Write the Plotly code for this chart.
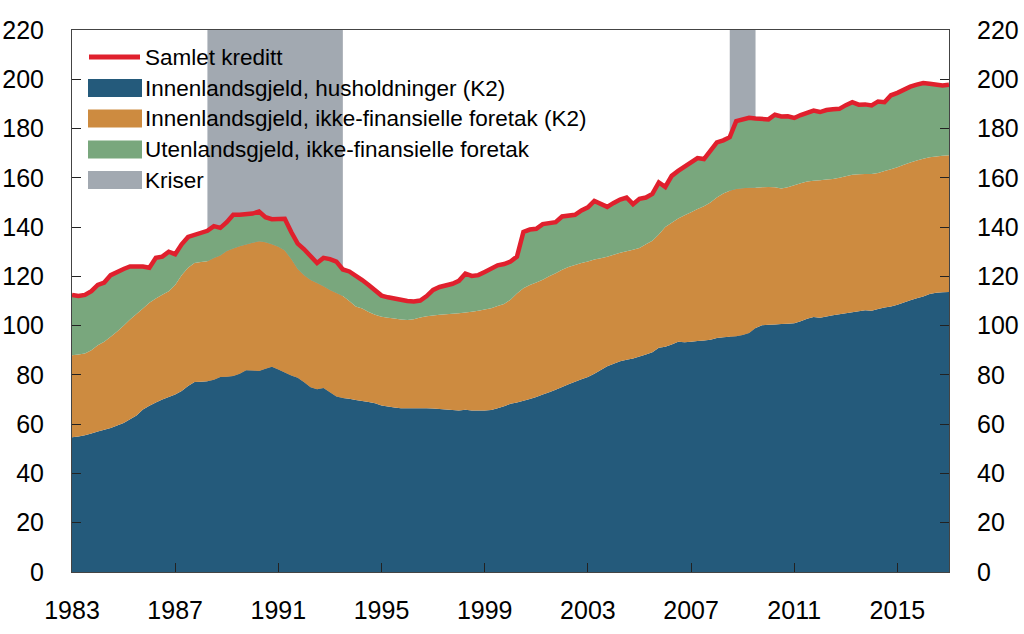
import plotly.graph_objects as go

# ---------------- data (quarterly, 1983Q1 .. 2017Q1), percent of GDP Mainland-Norway ----------------
start_year = 1983
n_quarters = 137
periods = [start_year + 0.25 * i for i in range(n_quarters)]

# Samlet kreditt (total level, red line)
samlet_kreditt = [
    112.5, 112.0, 112.5, 114.0, 116.5, 117.5, 120.5, 122.0,   # 1983-1984
    123.0, 124.0, 124.0, 124.0, 123.5, 127.5, 128.0, 130.0,   # 1985-1986
    129.0, 133.0, 136.0, 136.8, 137.3, 138.5, 140.4, 139.7,   # 1987-1988
    142.0, 145.0, 145.0, 145.2, 145.5, 146.3, 144.0, 143.2,   # 1989-1990
    143.3, 143.4, 138.0, 133.3, 131.0, 128.5, 125.4, 127.5,   # 1991-1992
    127.0, 126.0, 122.8, 122.0, 120.5, 118.5, 116.5, 114.5,   # 1993-1994
    112.2, 111.5, 110.9, 110.5, 110.0, 109.8, 110.2, 112.0,   # 1995-1996
    114.5, 115.7, 116.2, 117.0, 118.2, 121.1, 120.2, 120.5,   # 1997-1998
    121.8, 123.0, 124.5, 125.0, 126.0, 128.0, 138.0, 139.0,   # 1999-2000
    139.3, 141.2, 141.5, 142.0, 144.3, 144.7, 145.0, 146.8,   # 2001-2002
    148.0, 150.6, 149.5, 148.2, 149.8, 151.2, 152.0, 149.3,   # 2003-2004
    151.5, 152.0, 153.5, 158.1, 156.3, 160.8, 162.8, 164.5,   # 2005-2006
    166.0, 168.0, 167.6, 171.0, 174.4, 175.2, 176.5, 183.0,   # 2007-2008
    183.7, 184.4, 184.1, 183.9, 183.7, 185.6, 184.9, 185.0,   # 2009-2010
    184.3, 185.5, 186.5, 187.3, 186.7, 187.5, 187.8, 188.0,   # 2011-2012
    189.5, 190.7, 189.7, 189.8, 189.4, 191.0, 190.7, 193.5,   # 2013-2014
    194.5, 196.0, 197.0, 197.8, 198.5, 198.2, 197.8, 197.5,   # 2015-2016
    197.8,                                                    # 2017
]

# Innenlandsgjeld i alt (K2) = husholdninger + ikke-finansielle foretak (level of orange top)
innenlandsgjeld_k2 = [
    88.0, 88.3, 88.7, 90.0, 92.0, 93.5, 95.5, 97.6,
    100.0, 102.5, 104.7, 107.0, 109.3, 111.0, 112.5, 114.0,
    116.5, 120.5, 123.5, 125.4, 125.8, 126.1, 127.5, 128.5,
    130.3, 131.3, 132.2, 132.9, 133.6, 134.3, 133.8, 133.0,
    132.0, 130.5, 127.0, 123.0, 120.5, 118.5, 117.3, 116.0,
    114.5, 113.2, 112.0, 110.0, 107.8, 107.0, 105.5, 104.4,
    103.6, 103.2, 102.9, 102.5, 102.3, 102.6, 103.3, 103.8,
    104.1, 104.4, 104.6, 104.8, 105.0, 105.3, 105.6, 106.0,
    106.5, 107.1, 108.0, 108.8, 110.5, 113.0, 115.2, 116.5,
    117.5, 118.6, 120.0, 121.3, 122.7, 123.8, 124.6, 125.4,
    126.0, 126.8, 127.4, 128.0, 128.8, 129.6, 130.2, 130.8,
    131.5, 133.0, 134.5, 137.0, 140.0, 141.8, 143.5, 144.8,
    146.0, 147.3, 148.5, 150.0, 152.0, 153.6, 154.8, 155.5,
    155.8, 156.0, 156.0, 156.2, 156.3, 156.2, 155.7, 156.2,
    157.0, 157.8, 158.5, 158.8, 159.0, 159.3, 159.5, 160.0,
    160.6, 161.2, 161.4, 161.5, 161.5, 162.0, 162.8, 163.5,
    164.3, 165.3, 166.2, 167.0, 167.7, 168.3, 168.7, 169.0,
    169.2,
]

# Innenlandsgjeld, husholdninger (K2)
husholdninger = [
    54.7, 55.0, 55.5, 56.2, 57.0, 57.7, 58.5, 59.5,
    60.5, 62.0, 63.5, 66.0, 67.5, 68.8, 70.0, 71.0,
    72.0, 73.5, 75.5, 77.1, 77.2, 77.4, 78.0, 79.2,
    79.3, 79.6, 80.5, 81.9, 81.8, 81.6, 82.5, 83.3,
    82.2, 81.0, 79.8, 78.8, 77.0, 75.0, 74.2, 74.7,
    73.0, 71.2, 70.6, 70.3, 69.8, 69.4, 69.0, 68.5,
    67.6, 67.2, 66.8, 66.5, 66.5, 66.5, 66.5, 66.5,
    66.4, 66.2, 66.0, 65.8, 65.6, 65.9, 65.6, 65.6,
    65.6, 65.8, 66.5, 67.3, 68.3, 68.8, 69.5, 70.2,
    71.0, 72.0, 73.0, 74.0, 75.1, 76.2, 77.2, 78.2,
    79.2, 80.5, 82.0, 83.5, 84.5, 85.5, 86.2, 86.7,
    87.5, 88.3, 89.2, 91.0, 91.4, 92.3, 93.5, 93.3,
    93.5, 93.8, 94.0, 94.3, 95.0, 95.3, 95.5, 95.7,
    96.2, 97.0, 99.0, 100.2, 100.4, 100.5, 100.7, 100.8,
    101.0, 101.8, 102.8, 103.5, 103.2, 103.7, 104.2, 104.6,
    105.0, 105.4, 105.8, 106.2, 106.0, 106.8, 107.4, 107.8,
    108.5, 109.4, 110.3, 111.1, 111.8, 112.8, 113.3, 113.6,
    113.7,
]

# Kriser (start, end) in years
kriser = [(1988.25, 1993.5), (2008.5, 2009.5)]

x_tick_years = list(range(1983, 2016, 4))
y_ticks = list(range(0, 221, 20))

names = [
    "Samlet kreditt",
    "Innenlandsgjeld, husholdninger (K2)",
    "Innenlandsgjeld, ikke-finansielle foretak (K2)",
    "Utenlandsgjeld, ikke-finansielle foretak",
    "Kriser",
]

# derived components for stacking
foretak_k2 = [a - b for a, b in zip(innenlandsgjeld_k2, husholdninger)]
utenlandsgjeld = [a - b for a, b in zip(samlet_kreditt, innenlandsgjeld_k2)]

# ---------------- style ----------------
C_BLUE = "#245A7B"
C_ORANGE = "#CD8B40"
C_GREEN = "#79A77D"
C_RED = "#E0202D"
C_GREY = "#A2A9B1"
FONT = "Liberation Sans, Arial, Helvetica, sans-serif"

W, H = 1024, 634
L, R, T, B = 72, 75, 30, 62
PW, PH = W - L - R, H - T - B


def px_x(px):
    return (px - L) / PW


def px_y(py):
    return (H - B - py) / PH


fig = go.Figure()

fig.add_trace(go.Scatter(x=periods, y=husholdninger, name=names[1], stackgroup="s",
                         mode="none", fillcolor=C_BLUE, hoverinfo="skip"))
fig.add_trace(go.Scatter(x=periods, y=foretak_k2, name=names[2], stackgroup="s",
                         mode="none", fillcolor=C_ORANGE, hoverinfo="skip"))
fig.add_trace(go.Scatter(x=periods, y=utenlandsgjeld, name=names[3], stackgroup="s",
                         mode="none", fillcolor=C_GREEN, hoverinfo="skip"))
fig.add_trace(go.Scatter(x=periods, y=samlet_kreditt, name=names[0], mode="lines",
                         line=dict(color=C_RED, width=4.5), hoverinfo="skip"))
# invisible trace to activate the right-hand axis
fig.add_trace(go.Scatter(x=periods, y=samlet_kreditt, yaxis="y2", mode="lines",
                         line=dict(width=0), opacity=0, hoverinfo="skip", showlegend=False))

shapes = []
for a, b in kriser:
    shapes.append(dict(type="rect", xref="x", yref="y", x0=a, x1=b, y0=0, y1=220,
                       fillcolor=C_GREY, line=dict(width=0), layer="below"))

# custom legend
legend_rows = [57, 88, 118.5, 149.5, 180]
sym_x0, sym_x1, text_x = 88, 143, 143
shapes.append(dict(type="line", xref="paper", yref="paper",
                   x0=px_x(89), x1=px_x(140), y0=px_y(legend_rows[0]), y1=px_y(legend_rows[0]),
                   line=dict(color=C_RED, width=5)))
for row, col in zip(legend_rows[1:], [C_BLUE, C_ORANGE, C_GREEN, C_GREY]):
    shapes.append(dict(type="rect", xref="paper", yref="paper",
                       x0=px_x(sym_x0), x1=px_x(sym_x1 - 1),
                       y0=px_y(row + 9), y1=px_y(row - 9),
                       fillcolor=col, line=dict(width=0)))
annotations = []
for row, name in zip(legend_rows, names):
    annotations.append(dict(xref="paper", yref="paper", x=px_x(text_x), y=px_y(row),
                            text=name, showarrow=False, xanchor="left", yanchor="middle",
                            font=dict(family=FONT, size=22.5, color="black")))

axis_common = dict(showgrid=False, zeroline=False, ticks="inside", ticklen=9, tickwidth=1,
                   tickcolor="#222", showline=True, linewidth=1, automargin=False,
                   tickfont=dict(family=FONT, size=25, color="black"))

fig.update_layout(
    width=W, height=H, autosize=False,
    margin=dict(l=L, r=R, t=T, b=B, pad=0, autoexpand=False),
    paper_bgcolor="white", plot_bgcolor="white",
    showlegend=False,
    shapes=shapes, annotations=annotations,
    xaxis=dict(range=[1983, 2017], tickvals=x_tick_years, linecolor="#444", mirror=True,
               ticklabelstandoff=16, **axis_common),
    yaxis=dict(range=[0, 220], tickvals=y_ticks, linecolor="#444",
               ticklabelstandoff=22, **axis_common),
    yaxis2=dict(range=[0, 220], tickvals=y_ticks, overlaying="y", side="right",
                linecolor="#444", ticklabelstandoff=22, **axis_common),
)

fig.write_html("out.html", config={"displayModeBar": False},
               post_script="document.body.style.margin='0px';document.body.style.overflow='hidden';")
